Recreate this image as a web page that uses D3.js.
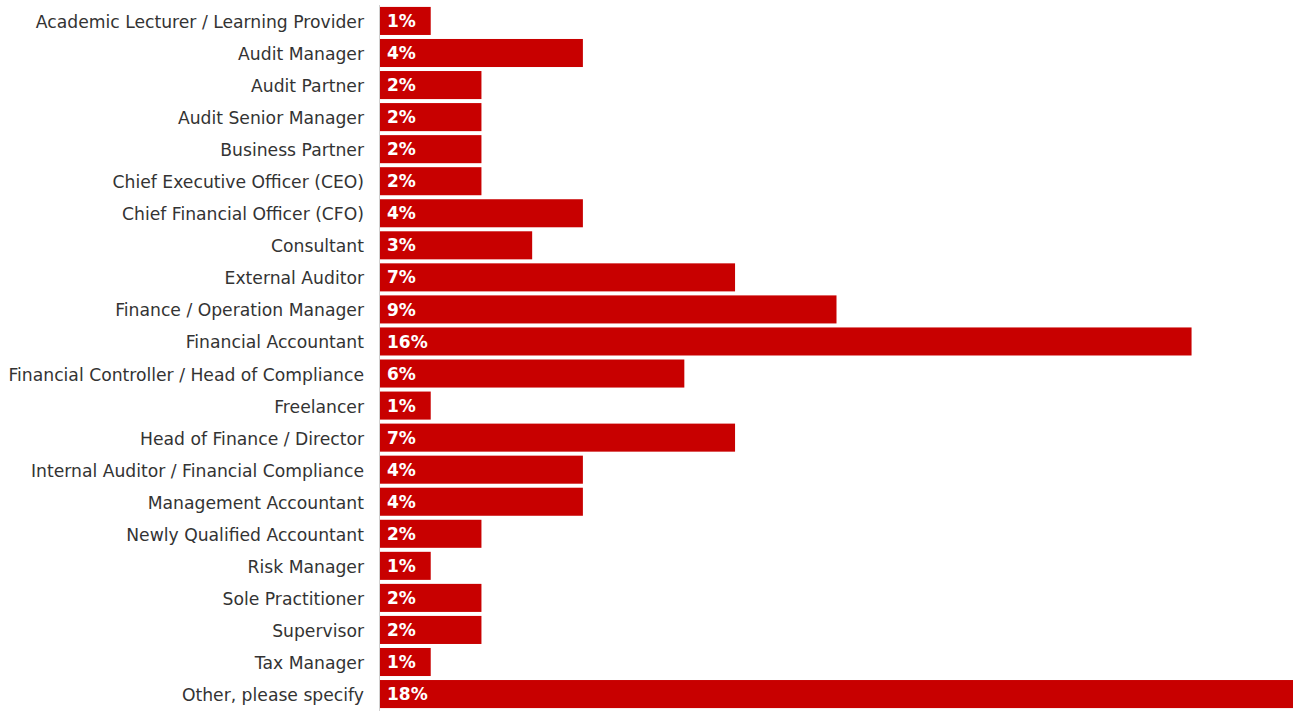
<!DOCTYPE html>
<html>
<head>
<meta charset="utf-8">
<script src="https://cdn.jsdelivr.net/npm/d3@7"></script>
<style>
  body { margin: 0; background: #fff; }
  svg { display: block; }
</style>
</head>
<body>
<svg id="chart" width="1298" height="711"></svg>
<script>
// job titles, top to bottom
const roles = [
  "Academic Lecturer / Learning Provider",
  "Audit Manager",
  "Audit Partner",
  "Audit Senior Manager",
  "Business Partner",
  "Chief Executive Officer (CEO)",
  "Chief Financial Officer (CFO)",
  "Consultant",
  "External Auditor",
  "Finance / Operation Manager",
  "Financial Accountant",
  "Financial Controller / Head of Compliance",
  "Freelancer",
  "Head of Finance / Director",
  "Internal Auditor / Financial Compliance",
  "Management Accountant",
  "Newly Qualified Accountant",
  "Risk Manager",
  "Sole Practitioner",
  "Supervisor",
  "Tax Manager",
  "Other, please specify"
];
// share of respondents, %
const shares = [1, 4, 2, 2, 2, 2, 4, 3, 7, 9, 16, 6, 1, 7, 4, 4, 2, 1, 2, 2, 1, 18];

const svg = d3.select("#chart");
const marginLeft = 380, plotRight = 1293, plotTop = 5, plotBottom = 711;

const data = roles.map((r, i) => ({ role: r, value: shares[i] }));

const x = d3.scaleLinear().domain([0, 18]).range([marginLeft, plotRight]);
const y = d3.scaleBand()
  .domain(roles)
  .range([plotTop, plotBottom - 1])
  .paddingInner(0.125)
  .paddingOuter(0.06);

// thin baseline
svg.append("line")
  .attr("x1", marginLeft - 0.5).attr("x2", marginLeft - 0.5)
  .attr("y1", plotTop).attr("y2", plotBottom)
  .attr("stroke", "#d0d0d0").attr("stroke-width", 1);

svg.append("g").selectAll("rect")
  .data(data)
  .enter().append("rect")
    .attr("x", x(0))
    .attr("y", d => y(d.role))
    .attr("width", d => x(d.value) - x(0))
    .attr("height", y.bandwidth())
    .attr("fill", "#c80000");

// category labels
svg.append("g").selectAll("text")
  .data(data)
  .enter().append("text")
    .attr("x", 364)
    .attr("y", d => y(d.role) + y.bandwidth() / 2 + 1)
    .attr("dy", "0.35em")
    .attr("text-anchor", "end")
    .attr("fill", "#333")
    .style("font-family", "'DejaVu Sans', sans-serif")
    .style("font-size", "17.2px")
    .text(d => d.role);

// value labels inside bars
svg.append("g").selectAll("text")
  .data(data)
  .enter().append("text")
    .attr("x", marginLeft + 7)
    .attr("y", d => y(d.role) + y.bandwidth() / 2)
    .attr("dy", "0.36em")
    .attr("fill", "#fff")
    .style("font-family", "'DejaVu Sans', sans-serif")
    .style("font-weight", "bold")
    .style("font-size", "17px")
    .text(d => d.value + "%");
</script>
</body>
</html>
